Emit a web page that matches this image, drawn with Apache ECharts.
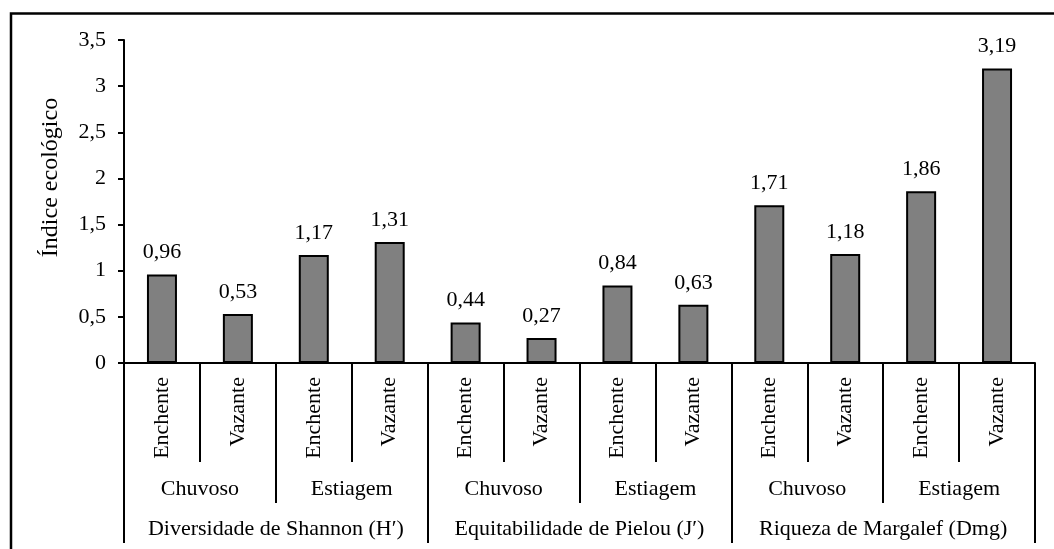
<!DOCTYPE html>
<html>
<head>
<meta charset="utf-8">
<script src="https://cdn.jsdelivr.net/npm/echarts@6/dist/echarts.min.js"></script>
<style>
html,body{margin:0;padding:0;background:#fff;}
#chart{width:1054px;height:549px;}
</style>
</head>
<body>
<div id="chart"></div>
<script>
const categories = ['Enchente','Vazante','Enchente','Vazante','Enchente','Vazante','Enchente','Vazante','Enchente','Vazante','Enchente','Vazante'];
const seasons = ['Chuvoso','Estiagem','Chuvoso','Estiagem','Chuvoso','Estiagem'];
const indices = ['Diversidade de Shannon (H′)','Equitabilidade de Pielou (J′)','Riqueza de Margalef (Dmg)'];
const values = [0.96, 0.53, 1.17, 1.31, 0.44, 0.27, 0.84, 0.63, 1.71, 1.18, 1.86, 3.19];
const yAxisTitle = 'Índice ecológico';

const FONT = "'Liberation Serif', 'Times New Roman', serif";
const fmt = v => String(v).replace('.', ',');

function xAxisLevel(data, tickLen, labelOpts, showLine) {
  return {
    type: 'category',
    gridIndex: 0,
    position: 'bottom',
    data: data,
    boundaryGap: true,
    axisLine: { show: showLine, onZero: false, lineStyle: { color: '#000', width: 2 } },
    axisTick: { show: true, interval: 0, length: tickLen, lineStyle: { color: '#000', width: 2 } },
    axisLabel: Object.assign({ interval: 0, color: '#000', fontFamily: FONT, fontSize: 22 }, labelOpts),
    splitLine: { show: false }
  };
}

const chart = echarts.init(document.getElementById('chart'), null, { renderer: 'canvas' });
chart.setOption({
  animation: false,
  backgroundColor: '#fff',
  grid: { left: 124, right: 19, top: 40, bottom: 186 },
  graphic: [{
    type: 'rect',
    shape: { x: 11, y: 13.5, width: 1300, height: 1000 },
    style: { fill: 'none', stroke: '#000', lineWidth: 2.5 },
    silent: true, z: 100
  }],
  xAxis: [
    xAxisLevel(categories, 99, { rotate: 90, margin: 14 }, true),
    xAxisLevel(seasons, 140, { margin: 115 }, false),
    xAxisLevel(indices, 180, { margin: 155 }, false)
  ],
  yAxis: {
    type: 'value',
    min: 0, max: 3.5, interval: 0.5,
    name: yAxisTitle,
    nameLocation: 'middle',
    nameRotate: 90,
    nameGap: 61,
    nameTextStyle: { color: '#000', fontFamily: FONT, fontSize: 24, padding: [0, 0, 0, 48] },
    axisLine: { show: true, lineStyle: { color: '#000', width: 2 } },
    axisTick: { show: true, length: 6, lineStyle: { color: '#000', width: 2 } },
    axisLabel: { color: '#000', fontFamily: FONT, fontSize: 22, margin: 18, formatter: fmt },
    splitLine: { show: false }
  },
  series: [{
    type: 'bar',
    xAxisIndex: 0,
    data: values,
    barWidth: 30,
    itemStyle: { color: '#808080', borderColor: '#000', borderWidth: 2 },
    label: {
      show: true, position: 'top', distance: 11,
      color: '#000', fontFamily: FONT, fontSize: 22,
      formatter: p => p.value.toFixed(2).replace('.', ',')
    }
  }]
});
</script>
</body>
</html>
